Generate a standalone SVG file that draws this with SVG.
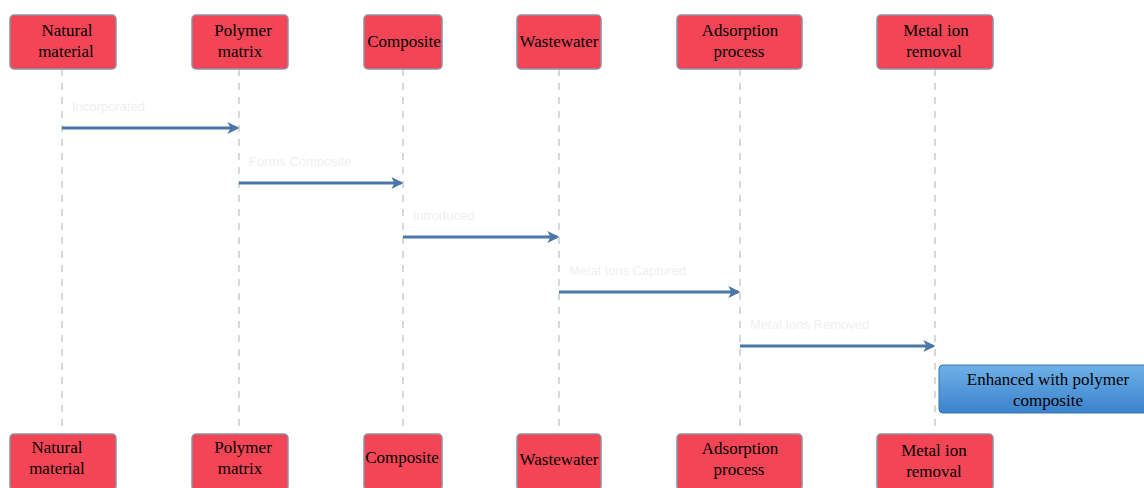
<svg xmlns="http://www.w3.org/2000/svg" width="1144" height="488" viewBox="0 0 1144 488">
<defs>
<style>
.box{fill:#f44557;stroke:#8d91a3;stroke-width:1.5}
.t{font-family:"Liberation Serif","Times New Roman",serif;font-size:17px;fill:#000;text-anchor:middle}
.life{stroke:#d8d8d8;stroke-width:2;stroke-dasharray:7,7;fill:none}
.msg{stroke:#4a76a8;stroke-width:3;fill:none;marker-end:url(#ah)}
.lbl{font-family:"Liberation Sans",sans-serif;font-size:13px;fill:#efefef}
</style>
<marker id="ah" viewBox="0 0 10 10" refX="8" refY="5" markerWidth="4" markerHeight="4" orient="auto" markerUnits="strokeWidth">
<path d="M0,0 L10,5 L0,10 L2.5,5 z" fill="#4a76a8"/>
</marker>
<linearGradient id="blue" x1="0" y1="0" x2="0" y2="1">
<stop offset="0" stop-color="#6fb0e8"/>
<stop offset="1" stop-color="#3a82cc"/>
</linearGradient>
</defs>
<rect width="1144" height="488" fill="#ffffff"/>
<g id="lifelines">
<line class="life" x1="62" y1="69" x2="62" y2="434"/>
<line class="life" x1="239" y1="69" x2="239" y2="434"/>
<line class="life" x1="403" y1="69" x2="403" y2="434"/>
<line class="life" x1="559" y1="69" x2="559" y2="434"/>
<line class="life" x1="740" y1="69" x2="740" y2="434"/>
<line class="life" x1="935" y1="69" x2="935" y2="434"/>
</g>
<g id="connectors">
<line class="msg" x1="62" y1="128" x2="237" y2="128"/>
<text class="lbl" x="72" y="111">Incorporated</text>
<line class="msg" x1="239" y1="183" x2="401" y2="183"/>
<text class="lbl" x="249" y="166">Forms Composite</text>
<line class="msg" x1="403" y1="237" x2="557" y2="237"/>
<text class="lbl" x="413" y="220">Introduced</text>
<line class="msg" x1="559" y1="292" x2="738" y2="292"/>
<text class="lbl" x="569" y="275">Metal Ions Captured</text>
<line class="msg" x1="740" y1="346" x2="933" y2="346"/>
<text class="lbl" x="750" y="329">Metal Ions Removed</text>
</g>
<g id="top-natural"><rect class="box" x="10" y="15" width="106" height="54" rx="4"/><text class="t" x="67" y="36">Natural</text><text class="t" x="66" y="57">material</text></g>
<g id="top-polymer"><rect class="box" x="192" y="15" width="96" height="54" rx="4"/><text class="t" x="243" y="36">Polymer</text><text class="t" x="240" y="57">matrix</text></g>
<g id="top-composite"><rect class="box" x="364" y="15" width="78" height="54" rx="4"/><text class="t" x="404" y="47">Composite</text></g>
<g id="top-wastewater"><rect class="box" x="517" y="15" width="84" height="54" rx="4"/><text class="t" x="559" y="47">Wastewater</text></g>
<g id="top-adsorption"><rect class="box" x="677" y="15" width="125" height="54" rx="4"/><text class="t" x="740" y="36">Adsorption</text><text class="t" x="739" y="57">process</text></g>
<g id="top-metal"><rect class="box" x="877" y="15" width="116" height="54" rx="4"/><text class="t" x="936" y="36">Metal ion</text><text class="t" x="934" y="57">removal</text></g>
<g id="note-enhanced"><rect x="939" y="365" width="210" height="48" rx="4" fill="url(#blue)" stroke="#3a74b0" stroke-width="1"/><text class="t" x="1048" y="385">Enhanced with polymer</text><text class="t" x="1048" y="406">composite</text></g>
<g id="bot-natural"><rect class="box" x="10" y="434" width="106" height="56" rx="4"/><text class="t" x="57" y="453">Natural</text><text class="t" x="57" y="474">material</text></g>
<g id="bot-polymer"><rect class="box" x="192" y="434" width="96" height="56" rx="4"/><text class="t" x="243" y="453">Polymer</text><text class="t" x="240" y="474">matrix</text></g>
<g id="bot-composite"><rect class="box" x="364" y="434" width="78" height="56" rx="4"/><text class="t" x="402" y="463">Composite</text></g>
<g id="bot-wastewater"><rect class="box" x="517" y="434" width="84" height="56" rx="4"/><text class="t" x="559" y="465">Wastewater</text></g>
<g id="bot-adsorption"><rect class="box" x="677" y="434" width="125" height="56" rx="4"/><text class="t" x="740" y="454">Adsorption</text><text class="t" x="739" y="475">process</text></g>
<g id="bot-metal"><rect class="box" x="877" y="434" width="116" height="56" rx="4"/><text class="t" x="934" y="456">Metal ion</text><text class="t" x="934" y="477">removal</text></g>
</svg>
